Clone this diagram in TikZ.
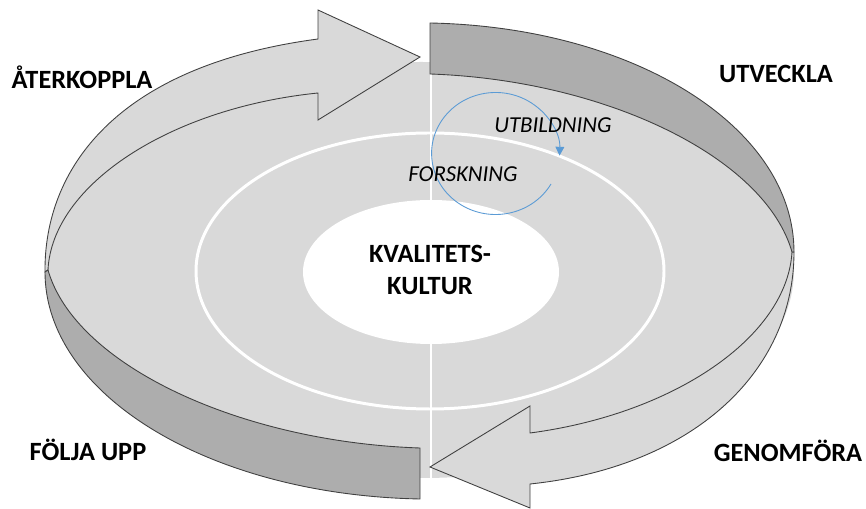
\documentclass[tikz,border=0pt]{standalone}
\usepackage{fontspec}
\setmainfont{Carlito}
\usetikzlibrary{arrows.meta}
\definecolor{ringgray}{HTML}{D9D9D9}
\definecolor{sidegray}{HTML}{ADADAD}
\definecolor{edgegray}{HTML}{404040}
\definecolor{loopblue}{HTML}{5B9BD5}
\tikzset{
	phase/.style={font=\fontsize{15}{18}\selectfont\bfseries, anchor=base},
	area/.style={font=\fontsize{13}{16}\selectfont\itshape, anchor=base},
	arrowface/.style={fill=ringgray, draw=edgegray, line width=0.5pt},
	arrowside/.style={fill=sidegray, draw=edgegray, line width=0.5pt}
}

\begin{document}
\begin{tikzpicture}[x=0.02cm, y=-0.02cm]
			%%%%% START %%%%%
			\useasboundingbox (0,0) rectangle (866,509);
			
			\fill[ringgray] (421,270) ellipse [x radius=373, y radius=208];
			\draw[white, line width=1.7pt] (430,271) ellipse [x radius=234, y radius=138];
			\draw[white, line width=1.4pt] (431,62) -- (431,479);
			\fill[white] (431,272) ellipse [x radius=128, y radius=72];
			
			\draw[arrowface] (45,272) .. controls (44,170) and (115,66) .. (318,39) -- (318,10) -- (420,57) -- (318,120) -- (318,93) .. controls (170,108) and (52,185) .. (48,270) -- cycle;
			\draw[arrowside] (48,270) .. controls (75,365) and (240,442) .. (420,448) -- (420,499) .. controls (210,495) and (45,395) .. (45,272) -- cycle;
			
			\draw[arrowface] (794,252) .. controls (794,372) and (693,467) .. (530,484) -- (530,508) -- (430,467) -- (530,406) -- (530,433) .. controls (674,414) and (787,337) .. (792,252) -- cycle;
			\draw[arrowside] (792,252) .. controls (765,157) and (605,80) .. (430,74) -- (430,23) .. controls (634,27) and (794,127) .. (794,252) -- cycle;
			
			\draw[loopblue, line width=0.5pt, -{Triangle[length=5pt, width=5pt]}] (551,184) arc [start angle=30, end angle=362, x radius=64, y radius=61];
			
			\node[phase] (aterkoppla) at (82,89) {ÅTERKOPPLA};
			\node[phase] (utveckla) at (776,83) {UTVECKLA};
			\node[phase] (foljaupp) at (88,461) {FÖLJA UPP};
			\node[phase] (genomfora) at (788,462) {GENOMFÖRA};
			\node[phase, anchor=center, align=center] (kultur) at (430,270) {KVALITETS-\\KULTUR};
			
			\node[area] (forskning) at (463,182) {FORSKNING};
			\node[area] (utbildning) at (553,133) {UTBILDNING};
			%%%%% END %%%%%
\end{tikzpicture}
\end{document}
